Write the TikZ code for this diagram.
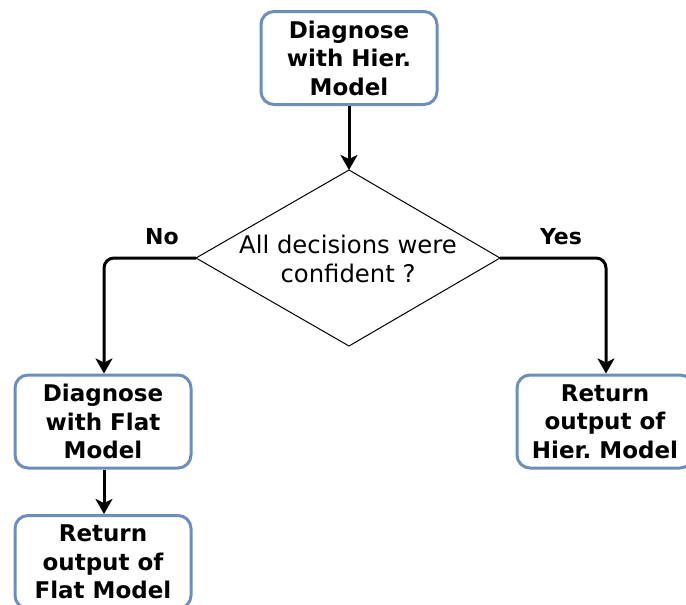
\documentclass[tikz,border=0pt]{standalone}
\usepackage{fontspec}
\setmainfont{DejaVu Sans}
\usetikzlibrary{arrows.meta}
\definecolor{boxblue}{HTML}{6C8EBF}
\frenchspacing
\tikzset{
  procbox/.style={draw=boxblue, line width=3pt, rounded corners=13pt, fill=white,
    minimum width=176pt, minimum height=93pt, inner sep=0pt,
    align=center, font=\fontsize{23}{28.5}\selectfont\bfseries},
  decisionline/.style={draw=black, line width=1pt, line join=miter},
  decisiontext/.style={align=center, inner sep=0pt,
    font=\fontsize{24.3}{29}\selectfont},
  flow/.style={draw=black, line width=3pt, rounded corners=10pt,
    -{Stealth[length=15pt,width=17pt,inset=4pt]}},
  branch/.style={font=\fontsize{22}{26}\selectfont\bfseries}
}
\begin{document}
\begin{tikzpicture}[x=1pt,y=-1pt]
  \path[use as bounding box] (0,0) rectangle (686,605);
  \clip (0,0) rectangle (686,605);

  % process boxes
  \node[procbox] (hier)     at (349,58)    {Diagnose\\with Hier.\\Model};
  \node[procbox] (flat)     at (103,421.5) {Diagnose\\with Flat\\Model};
  \node[procbox] (retflat)  at (103,562)   {Return\\output of\\Flat Model};
  \node[procbox] (rethier)  at (605,421.5) {Return\\output of\\Hier. Model};

  % decision diamond
  \coordinate (dtop)   at (349,170);
  \coordinate (dright) at (500,258);
  \coordinate (dbot)   at (349,346);
  \coordinate (dleft)  at (196,258);
  \draw[decisionline] (dtop) -- (dright) -- (dbot) -- (dleft) -- cycle;
  \node[decisiontext] (dec) at (348,259) {All decisions were\\confident ?};

  % connectors
  \draw[flow] (hier.south) -- (dtop);
  \draw[flow] (dleft) -- (104,258) -- (flat.north -| 104,0);
  \draw[flow] (dright) -- (606,258) -- (rethier.north -| 606,0);
  \draw[flow] (flat.south -| 104,0) -- (retflat.north -| 104,0);

  % branch labels
  \node[branch] (no)  at (162,237) {No};
  \node[branch] (yes) at (561,237) {Yes};
\end{tikzpicture}
\end{document}
